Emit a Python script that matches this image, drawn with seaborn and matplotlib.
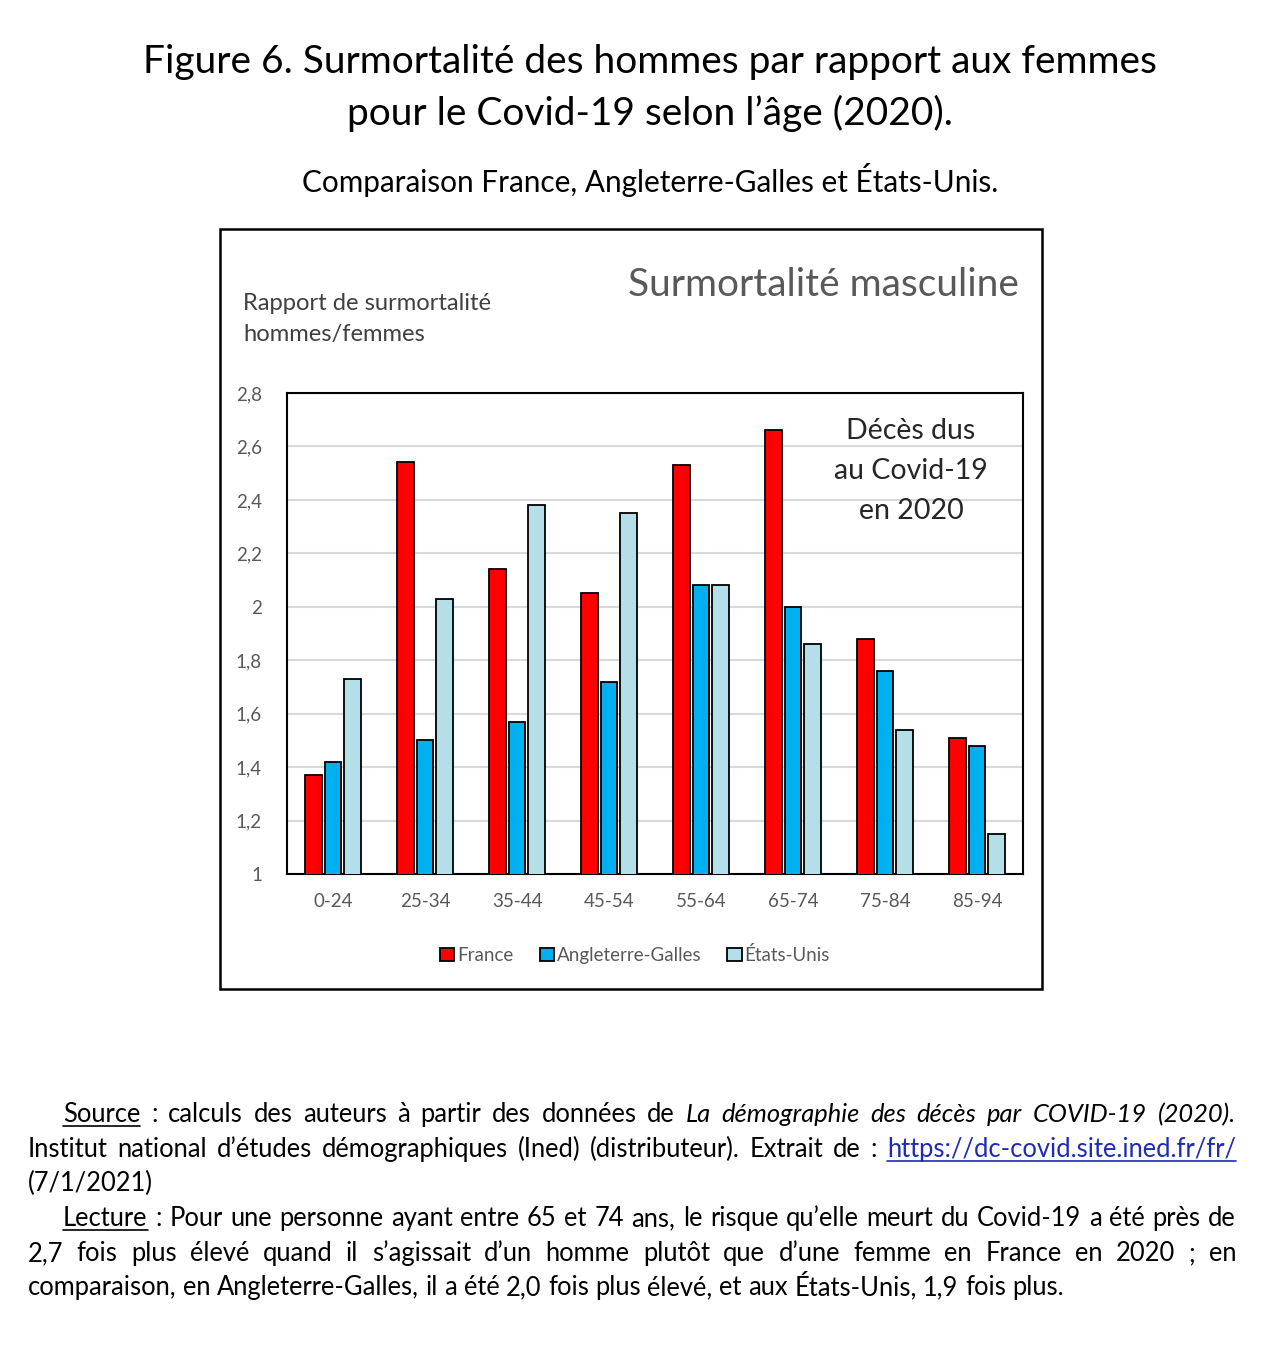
import numpy as np
import pandas as pd
import matplotlib
matplotlib.use("Agg")
import matplotlib.pyplot as plt
import seaborn as sns
from matplotlib.patches import Rectangle, Patch
from matplotlib.lines import Line2D

AGES = ["0-24", "25-34", "35-44", "45-54", "55-64", "65-74", "75-84", "85-94"]
FRANCE = [1.37, 2.54, 2.14, 2.05, 2.53, 2.66, 1.88, 1.51]
ANGLETERRE = [1.42, 1.50, 1.57, 1.72, 2.08, 2.00, 1.76, 1.48]
ETATS_UNIS = [1.73, 2.03, 2.38, 2.35, 2.08, 1.86, 1.54, 1.15]
SERIES = ["France", "Angleterre-Galles", "États-Unis"]
Y_TICKS = [1, 1.2, 1.4, 1.6, 1.8, 2, 2.2, 2.4, 2.6, 2.8]

COLORS = ["#FF0000", "#00B0F0", "#B4DFE8"]
FONT = ["Lato", "DejaVu Sans"]
GREY = "#595959"

sns.set_theme(style="white")
plt.rcParams["font.family"] = FONT

df = pd.DataFrame({
    "age": AGES * 3,
    "pays": [s for s in SERIES for _ in AGES],
    "ratio": FRANCE + ANGLETERRE + ETATS_UNIS,
})

W, H = 1280, 1345
fig = plt.figure(figsize=(W / 100, H / 100), dpi=100)
fig.patch.set_facecolor("white")


def fx(px):
    return px / W


def fy(py):
    return 1 - py / H


ax = fig.add_axes([fx(287), fy(874), fx(1023) - fx(287), fy(393) - fy(874)])
sns.barplot(data=df, x="age", y="ratio", hue="pays", palette=COLORS,
            saturation=1, width=0.64, gap=0.15, edgecolor="black",
            linewidth=1.3, ax=ax, legend=False, zorder=3)
ax.set_ylim(1, 2.8)
ax.set_xlim(-0.5, 7.5)
ax.set_yticks(Y_TICKS)
ax.set_yticklabels([f"{v:g}".replace(".", ",") for v in Y_TICKS])
ax.yaxis.grid(True, color="#D9D9D9", linewidth=1.5, zorder=0)
ax.set_axisbelow(True)
ax.set_xlabel("")
ax.set_ylabel("")
ax.tick_params(axis="both", length=0, labelsize=13.5, labelcolor=GREY)
ax.tick_params(axis="y", pad=18)
ax.tick_params(axis="x", pad=14)
for sp in ax.spines.values():
    sp.set_visible(True)
    sp.set_color("black")
    sp.set_linewidth(1.5)

handles = [Patch(facecolor=c, edgecolor="black", linewidth=1.3) for c in COLORS]
fig.legend(handles, SERIES, loc="center", bbox_to_anchor=(fx(635), fy(955)),
           ncol=3, frameon=False, fontsize=13.5, handlelength=0.75,
           handleheight=0.75, handletextpad=0.15, columnspacing=1.4,
           labelcolor=GREY)

# outer frame
fig.add_artist(Rectangle((fx(220), fy(989)), fx(1042) - fx(220), fy(229) - fy(989),
                         transform=fig.transFigure, fill=False,
                         edgecolor="black", linewidth=1.8))

# titles
fig.text(fx(650), fy(62), "Figure 6. Surmortalité des hommes par rapport aux femmes",
         ha="center", va="center", fontsize=28, color="black")
fig.text(fx(650), fy(113), "pour le Covid-19 selon l’âge (2020).",
         ha="center", va="center", fontsize=28, color="black")
fig.text(fx(650), fy(180), "Comparaison France, Angleterre-Galles et États-Unis.",
         ha="center", va="center", fontsize=21.4, color="black")
fig.text(fx(1019), fy(285), "Surmortalité masculine", ha="right", va="center",
         fontsize=28, color=GREY)
fig.text(fx(243), fy(304), "Rapport de surmortalité", ha="left", va="center",
         fontsize=17.1, color="#404040")
fig.text(fx(243), fy(335), "hommes/femmes", ha="left", va="center",
         fontsize=17.1, color="#404040")
for yy, line in zip([431, 471, 511], ["Décès dus", "au Covid-19", "en 2020"]):
    fig.text(fx(911), fy(yy), line, ha="center", va="center",
             fontsize=20.5, color="#262626")

# footer paragraph (justified lines)
renderer = fig.canvas.get_renderer()
FOOT_SIZE = 18.4


def word_width(word, style):
    t = fig.text(0, 0, word, fontsize=FOOT_SIZE, style=style)
    w = t.get_window_extent(renderer).width
    t.remove()
    return w


SPACE = word_width("a a", "normal") - word_width("aa", "normal")


def draw_line(y, segments, x0, x1=None):
    # segments: list of (text, kind) ; words within a segment are split on spaces
    words = []
    for text, kind in segments:
        for w in text.split(" "):
            if w:
                words.append((w, kind))
    style_of = {"n": "normal", "i": "italic", "u": "normal", "l": "normal"}
    widths = [word_width(w, style_of[k]) for w, k in words]
    gap = SPACE
    if x1 is not None and len(words) > 1:
        gap = (x1 - x0 - sum(widths)) / (len(words) - 1)
    x = x0
    base = y + 9
    for (w, k), wd in zip(words, widths):
        color = "#1F2AB8" if k == "l" else "black"
        fig.text(fx(x), fy(base), w, ha="left", va="baseline", fontsize=FOOT_SIZE,
                 style=style_of[k], color=color)
        if k in ("u", "l"):
            fig.add_artist(Line2D([fx(x), fx(x + wd)], [fy(base + 4), fy(base + 4)],
                                  transform=fig.transFigure, color=color,
                                  linewidth=1.2))
        x += wd + gap


draw_line(1113, [("Source", "u"), (" : calculs des auteurs à partir des données de", "n"),
                 ("La démographie des décès par COVID-19 (2020).", "i")], 63, 1236)
draw_line(1148, [("Institut national d’études démographiques (Ined) (distributeur). Extrait de :", "n"),
                 ("https://dc-covid.site.ined.fr/fr/", "l")], 28, 1236)
draw_line(1182, [("(7/1/2021)", "n")], 28)
draw_line(1217, [("Lecture", "u"), (" : Pour une personne ayant entre 65 et 74 ans, le risque qu’elle meurt du Covid-19 a été près de", "n")], 63, 1236)
draw_line(1252, [("2,7 fois plus élevé quand il s’agissait d’un homme plutôt que d’une femme en France en 2020 ; en", "n")], 28, 1236)
draw_line(1286, [("comparaison, en Angleterre-Galles, il a été 2,0 fois plus élevé, et aux États-Unis, 1,9 fois plus.", "n")], 28)

fig.savefig("out.png", dpi=100, facecolor="white")
